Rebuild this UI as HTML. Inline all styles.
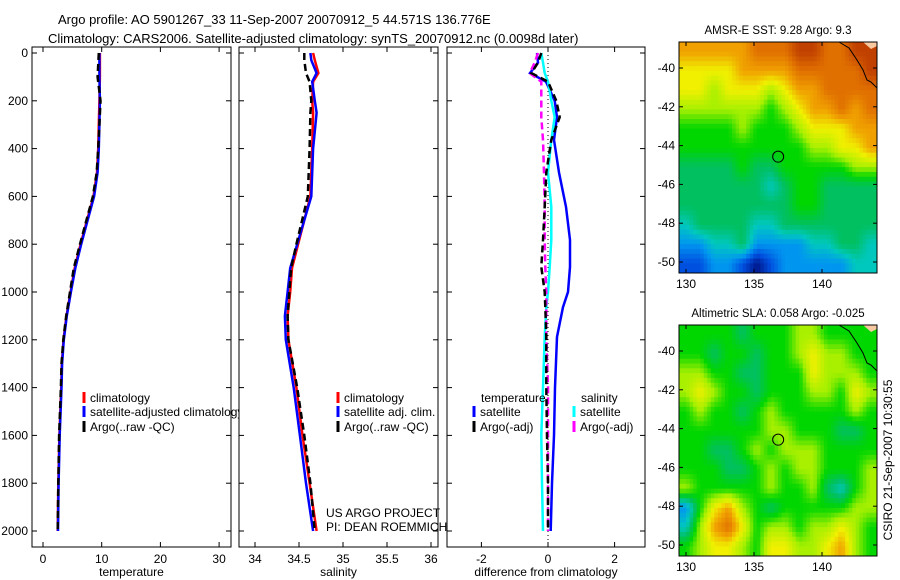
<!DOCTYPE html>
<html><head><meta charset="utf-8"><style>
html,body{margin:0;padding:0;background:#fff}
svg{display:block;font-family:"Liberation Sans",sans-serif}
</style></head><body>
<svg id="svg" width="900" height="580" xmlns="http://www.w3.org/2000/svg"></svg>
<script>
// ---------- DATA ----------
const depthsT = [0,100,200,300,400,500,600,700,800,900,1000,1100,1200,1300,1400,1600,1800,2000];
const tempClim = [9.7,9.7,9.6,9.5,9.4,9.2,8.6,7.5,6.4,5.4,4.7,4.0,3.5,3.2,3.1,2.8,2.6,2.5];
const tempSat  = [9.6,9.6,9.7,9.6,9.5,9.3,8.7,7.6,6.5,5.5,4.75,4.05,3.55,3.25,3.15,2.85,2.65,2.55];
const tempArgo = [9.5,9.3,9.8,9.6,9.4,9.15,8.5,7.4,6.3,5.25,4.6,3.95,3.45,3.15,3.05,2.75,2.6,2.5];

const depthsS = [0,30,84,120,200,250,400,600,800,900,1000,1100,1200,1400,1600,1800,2000];
const salClim = [34.66,34.68,34.72,34.66,34.65,34.66,34.65,34.63,34.49,34.42,34.40,34.37,34.38,34.47,34.54,34.62,34.70];
const salSat  = [34.63,34.64,34.70,34.65,34.68,34.70,34.66,34.64,34.48,34.40,34.37,34.34,34.35,34.44,34.51,34.58,34.66];
const salArgo = [34.56,34.56,34.58,34.62,34.64,34.63,34.62,34.60,34.47,34.41,34.39,34.37,34.38,34.48,34.56,34.63,34.68];

const depthsD = [0,40,84,120,200,268,364,500,644,782,895,1000,1063,1188,1400,1600,1800,2000];
const dTempSat  = [-0.33,-0.3,-0.54,-0.06,0.2,0.27,0.18,0.33,0.54,0.66,0.66,0.6,0.45,0.27,0.21,0.18,0.12,0.08];
const dTempArgo = [-0.2,-0.3,-0.5,0.0,0.25,0.35,0.1,-0.05,-0.1,-0.15,-0.2,-0.1,-0.08,-0.05,-0.05,-0.03,0.0,0.0];
const dSalSat   = [-0.2,-0.15,-0.1,0.0,0.1,0.2,0.1,0.0,0.1,0.1,0.05,0.0,-0.05,-0.1,-0.15,-0.2,-0.18,-0.15];
const dSalArgo  = [-0.3,-0.4,-0.55,-0.2,-0.2,-0.2,-0.15,-0.12,-0.1,-0.1,-0.08,-0.05,-0.05,-0.05,0.0,0.0,0.0,0.0];

const depthTicks = [0,200,400,600,800,1000,1200,1400,1600,1800,2000];
const tempTicks = [0,10,20,30];
const salTicks = [34,34.5,35,35.5,36];
const salTickLabels = ["34","34.5","35","35.5","36"];
const diffTicks = [-2,0,2];
const lonTicks = [130,135,140];
const latTicks = [-40,-42,-44,-46,-48,-50];

// map grids: rows lat -39 .. -50 (1 deg), cols lon 129.5..144 (14 cols). values = colour index 0..10
const sstGrid = [
 [8,8,8,8,8,9,9,9,10,10,9,9,10,10],
 [7,7,7,7,8,8,8,8,9,9,9,9,9,10],
 [7,7,6,7,7,7,6,7,8,8,9,9,9,9],
 [6,6,6,6,6,6,5,6,7,8,8,9,8,9],
 [5,5,5,5,6,5,5,5,6,7,7,7,8,8],
 [5,5,5,5,5,5,5,5,5,6,6,7,7,8],
 [4,4,4,4,5,4,4,5,5,5,5,5,6,6],
 [4,4,4,4,4,4,3,4,5,5,4,4,4,4],
 [4,4,4,4,4,4,4,4,5,5,4,4,4,4],
 [3,4,4,4,4,3,3,4,4,4,4,4,4,4],
 [2,2,3,3,4,2,2,2,2,3,3,4,4,3],
 [1,1,2,2,1,0,1,2,2,2,2,2,3,3]];
const slaGrid = [
 [5,5,5,5,4,5,5,5,6,6,5,5,5,5],
 [5,5,4,5,5,4,5,5,6,7,6,6,5,5],
 [6,6,5,5,4,4,5,5,5,7,6,6,6,5],
 [6,7,6,5,5,4,5,5,5,6,6,5,7,6],
 [5,6,5,5,4,5,6,5,5,5,5,5,6,5],
 [5,5,5,5,5,5,6,6,5,5,5,4,4,5],
 [5,5,4,4,5,6,5,6,6,6,5,5,5,5],
 [5,5,5,4,4,5,6,5,6,6,5,5,5,6],
 [6,5,5,5,5,5,6,5,5,6,4,3,5,6],
 [2,5,7,8,6,5,4,5,5,5,5,5,6,6],
 [3,6,8,9,7,5,6,6,5,6,6,7,6,5],
 [5,6,7,7,6,5,7,7,6,6,7,8,6,5]];
const argoLon = 136.776, argoLat = -44.571;

// ---------- HELPERS ----------
const NS="http://www.w3.org/2000/svg";
const svg=document.getElementById('svg');
function mk(tag,attrs,parent){const e=document.createElementNS(NS,tag);for(const k in attrs)e.setAttribute(k,attrs[k]);(parent||svg).appendChild(e);return e;}
function txt(s,x,y,anchor,size,parent){const e=mk('text',{x:x,y:y,'text-anchor':anchor||'start','font-size':size||12,fill:'#000'},parent);e.textContent=s;return e;}

const yTop=47,yBot=547;
const yD=d=>53+d*0.239;

const panels=[
 {name:'temperature',x0:32,x1:231,xs:v=>43+v*5.87},
 {name:'salinity',x0:239,x1:438,xs:v=>255+(v-34)*88},
 {name:'difference',x0:447,x1:645,xs:v=>548+v*33.3}
];

function frame(p){
  const r=mk('rect',{x:p.x0,y:yTop,width:p.x1-p.x0,height:yBot-yTop,fill:'#fff',stroke:'#000','stroke-width':1});
  
  
}
function line(xs,ds,vals,color,dash,w,name){
  let d='';
  for(let i=0;i<vals.length;i++){d+=(i?'L':'M')+xs(vals[i]).toFixed(1)+','+yD(ds[i]).toFixed(1);}
  const e=mk('path',{d:d,fill:'none',stroke:color,'stroke-width':w||2,'stroke-dasharray':dash||'none'});
  
  
}
function axes(p,ticks,labels,xlabel,showY){
  const g=mk('g',{});
  
  
  ticks.forEach((t,i)=>{
    const x=p.xs(t);
    mk('line',{x1:x,y1:yBot,x2:x,y2:yBot-5,stroke:'#000'},g);
    mk('line',{x1:x,y1:yTop,x2:x,y2:yTop+5,stroke:'#000'},g);
    txt(labels[i],x,yBot+16,'middle',12,g);
  });
  depthTicks.forEach(d=>{
    const y=yD(d);
    mk('line',{x1:p.x0,y1:y,x2:p.x0+5,y2:y,stroke:'#000'},g);
    mk('line',{x1:p.x1,y1:y,x2:p.x1-5,y2:y,stroke:'#000'},g);
    if(showY) txt(String(d),p.x0-4,y+4,'end',12,g);
  });
  const xl=txt(xlabel,(p.x0+p.x1)/2,yBot+29,'middle',12,g);
  
  
}
function legendEntry(x,y,color,label,name){
  const g=mk('g',{});
  
  
  mk('line',{x1:x,y1:y-10,x2:x,y2:y+1,stroke:color,'stroke-width':3},g);
  txt(label,x+6,y,'start',12,g);
}

// ---------- TITLE ----------
const t1=txt('Argo profile: AO 5901267_33 11-Sep-2007 20070912_5 44.571S 136.776E',58,24,'start',13);

const t2=txt('Climatology: CARS2006. Satellite-adjusted climatology: synTS_20070912.nc (0.0098d later)',48,43,'start',13);


// ---------- PANEL 1 ----------
let p=panels[0];frame(p);
line(p.xs,depthsT,tempClim,'#f00',null,2.5,'temp-climatology-line');
line(p.xs,depthsT,tempSat,'#00f',null,2.5,'temp-satellite-line');
line(p.xs,depthsT,tempArgo,'#000','7,4',2.5,'temp-argo-line');
axes(p,tempTicks,tempTicks.map(String),'temperature',true);
legendEntry(84,402,'#f00','climatology','legend-climatology');
legendEntry(84,416,'#00f','satellite-adjusted climatology','legend-satellite-adjusted');
legendEntry(84,431,'#000','Argo(..raw -QC)','legend-argo');

// ---------- PANEL 2 ----------
p=panels[1];frame(p);
line(p.xs,depthsS,salClim,'#f00',null,2.5,'sal-climatology-line');
line(p.xs,depthsS,salSat,'#00f',null,2.5,'sal-satellite-line');
line(p.xs,depthsS,salArgo,'#000','7,4',2.5,'sal-argo-line');
axes(p,salTicks,salTickLabels,'salinity',false);
legendEntry(338,402,'#f00','climatology','legend-sal-climatology');
legendEntry(338,416,'#00f','satellite adj. clim.','legend-sal-satellite');
legendEntry(338,431,'#000','Argo(..raw -QC)','legend-sal-argo');
txt('US ARGO PROJECT',326,517,'start',12);
txt('PI: DEAN ROEMMICH',326,531,'start',12);

// ---------- PANEL 3 ----------
p=panels[2];frame(p);
mk('line',{x1:p.xs(0),y1:yTop,x2:p.xs(0),y2:yBot,stroke:'#000','stroke-dasharray':'1,3'});
line(p.xs,depthsD,dTempSat,'#00f',null,2.5,'diff-temp-satellite-line');
line(p.xs,depthsD,dSalSat,'#0ff',null,2.5,'diff-sal-satellite-line');
line(p.xs,depthsD,dSalArgo,'#f0f','7,4',2.5,'diff-sal-argo-line');
line(p.xs,depthsD,dTempArgo,'#000','7,4',2.5,'diff-temp-argo-line');
axes(p,diffTicks,diffTicks.map(String),'difference from climatology',false);
txt('temperature',481,402,'start',12);
txt('salinity',581,402,'start',12);
legendEntry(474,416,'#00f','satellite','legend-diff-temp-satellite');
legendEntry(474,431,'#000','Argo(-adj)','legend-diff-temp-argo');
legendEntry(574,416,'#0ff','satellite','legend-diff-sal-satellite');
legendEntry(574,431,'#f0f','Argo(-adj)','legend-diff-sal-argo');

// ---------- MAPS ----------
const cmap=[[0,24,140],[0,80,224],[0,150,240],[0,200,190],[0,192,96],[0,214,0],[168,240,0],[240,240,0],[240,160,0],[224,112,0],[192,64,0]];
function colorAt(v){
  v=Math.max(0,Math.min(10,v));const i=Math.min(9,Math.floor(v)),f=v-i;
  const a=cmap[i],b=cmap[i+1];
  return 'rgb('+a.map((c,k)=>Math.round(c+(b[k]-c)*f)).join(',')+')';
}
function sample(grid,r,c){
  const R=grid.length,C=grid[0].length;
  r=Math.max(0,Math.min(R-1,r));c=Math.max(0,Math.min(C-1,c));
  const r0=Math.floor(r),c0=Math.floor(c),r1=Math.min(R-1,r0+1),c1=Math.min(C-1,c0+1),fr=r-r0,fc=c-c0;
  return grid[r0][c0]*(1-fr)*(1-fc)+grid[r0][c1]*(1-fr)*fc+grid[r1][c0]*fr*(1-fc)+grid[r1][c1]*fr*fc;
}
function drawMap(grid,top,title,name){
  const x0=679,x1=877,y0=top,y1=top+231;
  const lx=lon=>686+(lon-130)*13.6;
  const ly=lat=>y0+26+(-40-lat)*19.4;
  const g=mk('g',{});
  
  
  const R=grid.length,C=grid[0].length,sub=4;
  const cw=(x1-x0)/(C*sub), ch=(y1-y0)/(R*sub);
  for(let r=0;r<R*sub;r++)for(let c=0;c<C*sub;c++){
    const v=sample(grid,(r+0.5)/sub-0.5,(c+0.5)/sub-0.5);
    mk('rect',{x:(x0+c*cw).toFixed(2),y:(y0+r*ch).toFixed(2),width:(cw+0.4).toFixed(2),height:(ch+0.4).toFixed(2),fill:colorAt(v)},g);
  }
  mk('polygon',{points:`${x1-14},${y0} ${x1},${y0} ${x1},${y0+4} ${x1-6},${y0+7}`,fill:'#f8c8a0'},g);
  mk('path',{d:`M${x1-38},${y0} L${x1-28},${y0+6} L${x1-20},${y0+18} L${x1-14},${y0+28} L${x1-10},${y0+38} L${x1-6},${y0+40} L${x1},${y0+46}`,fill:'none',stroke:'#000','stroke-width':1},g);
  mk('rect',{x:x0,y:y0,width:x1-x0,height:y1-y0,fill:'none',stroke:'#000'},g);
  lonTicks.forEach(l=>{const x=lx(l);mk('line',{x1:x,y1:y1,x2:x,y2:y1-4,stroke:'#000'},g);mk('line',{x1:x,y1:y0,x2:x,y2:y0+4,stroke:'#000'},g);txt(String(l),x,y1+15,'middle',12,g);});
  latTicks.forEach(l=>{const y=ly(l);mk('line',{x1:x0,y1:y,x2:x0+4,y2:y,stroke:'#000'},g);mk('line',{x1:x1,y1:y,x2:x1-4,y2:y,stroke:'#000'},g);txt(String(l),x0-4,y+4,'end',12,g);});
  const c=mk('circle',{cx:lx(argoLon),cy:ly(argoLat),r:5.5,fill:'none',stroke:'#000','stroke-width':1},g);
  
  
  const tt=txt(title,(x0+x1)/2,y0-8,'middle',11.5,g);
  
  
}
drawMap(sstGrid,42,'AMSR-E SST: 9.28 Argo: 9.3','sst-map');
drawMap(slaGrid,325,'Altimetric SLA: 0.058 Argo: -0.025','sla-map');
const cs=txt('CSIRO 21-Sep-2007 10:30:55',0,0,'middle',12);
cs.setAttribute('transform','translate(892,460) rotate(-90)');


</script>
</body></html>
